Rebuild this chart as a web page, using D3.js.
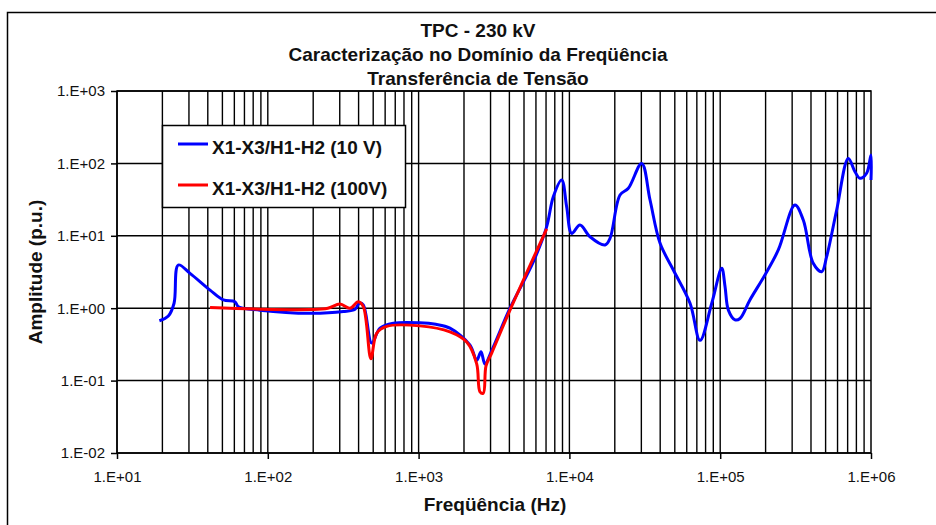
<!DOCTYPE html>
<html>
<head>
<meta charset="utf-8">
<script src="https://cdn.jsdelivr.net/npm/d3@7"></script>
<style>
  body { margin: 0; background: #fff; }
  svg { display: block; font-family: "Liberation Sans", Arial, sans-serif; }
</style>
</head>
<body>
<svg id="chart"></svg>
<script>
//*************** data ******************//

// title lines and axis labels
var titleLines = ["TPC - 230 kV", "Caracterização no Domínio da Freqüência", "Transferência de Tensão"];
var xLabel = "Freqüência (Hz)";
var yLabel = "Amplitude (p.u.)";
var seriesNames = ["X1-X3/H1-H2 (10 V)", "X1-X3/H1-H2 (100V)"];

// decade ticks
var xTicks = [1e1, 1e2, 1e3, 1e4, 1e5, 1e6];
var yTicks = [1e-2, 1e-1, 1e0, 1e1, 1e2, 1e3];

// 10 V measurement (Hz, p.u.)
var blueFreq = [19.1, 21.9, 23.9, 25.5, 30.5, 41.4, 50.7, 60.5, 63.8, 88.7,
  190, 317, 379, 404, 430, 489, 555, 680, 1020, 1300,
  1614, 2193, 2428, 2594, 2754, 3053, 4036, 5770, 7070, 7820,
  8890, 9590, 10350, 11750, 13700, 17230, 18590, 21660, 24600, 30150,
  34260, 39940, 48900, 63100, 73500, 87900, 102400, 107700, 113300, 125400,
  135300, 157400, 198000, 242800, 313000, 355600, 414000, 471000, 508000, 592000,
  707000, 783000, 845000, 935000, 1000000, 1000000];
var blueAmp = [0.67, 0.78, 1.17, 3.95, 3.03, 1.78, 1.30, 1.23, 1.05, 0.94,
  0.85, 0.90, 0.97, 1.17, 1.11, 0.33, 0.53, 0.62, 0.63, 0.60,
  0.53, 0.31, 0.19, 0.25, 0.17, 0.26, 1.0, 4.4, 13.4, 34.7,
  59, 25.2, 10.8, 14.1, 9.7, 7.46, 9.2, 36.6, 45.3, 100,
  31.2, 7.87, 3.37, 1.17, 0.36, 1.17, 3.56, 1.98, 0.94, 0.69,
  0.72, 1.30, 2.88, 6.37, 26.6, 16.5, 4.17, 3.19, 5.14, 22.7,
  117, 76.8, 62.2, 73, 131, 59];

// 100 V measurement (Hz, p.u.)
var redFreq = [41.4, 88.7, 190, 250, 301, 351, 398, 430, 483, 527,
  614, 1020, 1614, 2085, 2428, 2553, 2685, 2799, 3053, 4036, 7070];
var redAmp = [1.02, 0.97, 0.96, 1.0, 1.14, 1.0, 1.23, 1.05, 0.20, 0.45,
  0.56, 0.57, 0.47, 0.34, 0.17, 0.070, 0.067, 0.16, 0.24, 0.94, 12.5];

//*************** initialise parameters ******************//

var W = 936, H = 525;
var margin = {top: 91, right: 65, bottom: 72, left: 117};
var width = W - margin.left - margin.right,
    height = H - margin.top - margin.bottom;

var svg = d3.select("svg#chart")
  .attr("width", W)
  .attr("height", H);

// outer frame of the chart area (open on the right and bottom)
svg.append("path")
  .attr("d", "M7.5," + H + "V12.5H" + W)
  .attr("fill", "none")
  .attr("stroke", "#000")
  .attr("stroke-width", 1.5);

var xScale = d3.scaleLog().domain([1e1, 1e6]).range([0, width]),
    yScale = d3.scaleLog().domain([1e-2, 1e3]).range([height, 0]);

var plot = svg.append("g")
  .attr("transform", "translate(" + margin.left + "," + margin.top + ")");

// label in the 1.E+03 style
function fmtE(d) {
  var e = Math.round(Math.log10(d));
  var a = Math.abs(e);
  return "1.E" + (e < 0 ? "-" : "+") + (a < 10 ? "0" : "") + a;
}

//--------------- grid
// vertical lines at every 1..9 x 10^k
var minor = [];
for (var k = 1; k < 6; k++) {
  for (var m = 1; m < 10; m++) minor.push(m * Math.pow(10, k));
}
plot.append("g").attr("class", "grid-x")
  .selectAll("line")
  .data(minor)
  .enter().append("line")
  .attr("x1", function(d) { return xScale(d); })
  .attr("x2", function(d) { return xScale(d); })
  .attr("y1", 0)
  .attr("y2", height)
  .attr("stroke", "#000")
  .attr("stroke-width", 1.4);

// horizontal lines only at decades
plot.append("g").attr("class", "grid-y")
  .selectAll("line")
  .data(yTicks)
  .enter().append("line")
  .attr("x1", 0)
  .attr("x2", width)
  .attr("y1", function(d) { return yScale(d); })
  .attr("y2", function(d) { return yScale(d); })
  .attr("stroke", "#000")
  .attr("stroke-width", 1.5);

// plot border
plot.append("rect")
  .attr("width", width)
  .attr("height", height)
  .attr("fill", "none")
  .attr("stroke", "#000")
  .attr("stroke-width", 1.5);

//--------------- axes
var xAxis = d3.axisBottom(xScale)
  .tickValues(xTicks)
  .tickFormat(fmtE)
  .tickSize(6)
  .tickPadding(12);

var x_axis = plot.append("g")
  .attr("transform", "translate(0," + height + ")")
  .call(xAxis);

var yAxis = d3.axisLeft(yScale)
  .tickValues(yTicks)
  .tickFormat(fmtE)
  .tickSize(6)
  .tickPadding(6);

var y_axis = plot.append("g")
  .call(yAxis);

[x_axis, y_axis].forEach(function(ax) {
  ax.select(".domain").remove();
  ax.selectAll(".tick line").attr("stroke", "#000").attr("stroke-width", 1.5);
  ax.selectAll(".tick text")
    .attr("fill", "#111")
    .style("font-family", "Liberation Sans, Arial, sans-serif")
    .style("font-size", "15px");
});

//--------------- lines
// smoothed like the spreadsheet's curve
var line = d3.line()
  .x(function(d) { return xScale(d[0]); })
  .y(function(d) { return yScale(d[1]); })
  .curve(d3.curveCatmullRom.alpha(0.5));

var blueData = blueFreq.map(function(f, i) { return [f, blueAmp[i]]; });
var redData = redFreq.map(function(f, i) { return [f, redAmp[i]]; });

plot.append("path")
  .datum(blueData)
  .attr("fill", "none")
  .attr("stroke", "#0000ff")
  .attr("stroke-width", 3)
  .attr("stroke-linejoin", "round")
  .attr("d", line);

plot.append("path")
  .datum(redData)
  .attr("fill", "none")
  .attr("stroke", "#ff0000")
  .attr("stroke-width", 3)
  .attr("stroke-linejoin", "round")
  .attr("d", line);

//--------------- titles
var title = svg.append("text")
  .attr("text-anchor", "middle")
  .attr("font-size", "19px")
  .attr("font-weight", "bold")
  .attr("fill", "#111");

title.selectAll("tspan")
  .data(titleLines)
  .enter().append("tspan")
  .attr("x", 478)
  .attr("y", function(d, i) { return 37 + i * 24; })
  .text(function(d) { return d; });

svg.append("text")
  .attr("x", 495)
  .attr("y", 511)
  .attr("text-anchor", "middle")
  .attr("font-size", "19px")
  .attr("font-weight", "bold")
  .attr("fill", "#111")
  .text(xLabel);

svg.append("text")
  .attr("transform", "translate(42,272) rotate(-90)")
  .attr("text-anchor", "middle")
  .attr("font-size", "19px")
  .attr("font-weight", "bold")
  .attr("fill", "#111")
  .text(yLabel);

//--------------- legend
var legend = svg.append("g")
  .attr("transform", "translate(162,125)");

legend.append("rect")
  .attr("x", 0.5)
  .attr("y", 0.5)
  .attr("width", 243)
  .attr("height", 82)
  .attr("fill", "#fff")
  .attr("stroke", "#000")
  .attr("stroke-width", 1.5);

var legendColors = ["#0000ff", "#ff0000"];
var items = legend.selectAll("g.item")
  .data(seriesNames)
  .enter().append("g")
  .attr("class", "item")
  .attr("transform", function(d, i) { return "translate(0," + (19 + i * 41) + ")"; });

items.append("line")
  .attr("x1", 16)
  .attr("x2", 46)
  .attr("stroke", function(d, i) { return legendColors[i]; })
  .attr("stroke-width", 3);

items.append("text")
  .attr("x", 50)
  .attr("y", 10)
  .attr("font-size", "19px")
  .attr("font-weight", "bold")
  .attr("fill", "#111")
  .text(function(d) { return d; });
</script>
</body>
</html>
